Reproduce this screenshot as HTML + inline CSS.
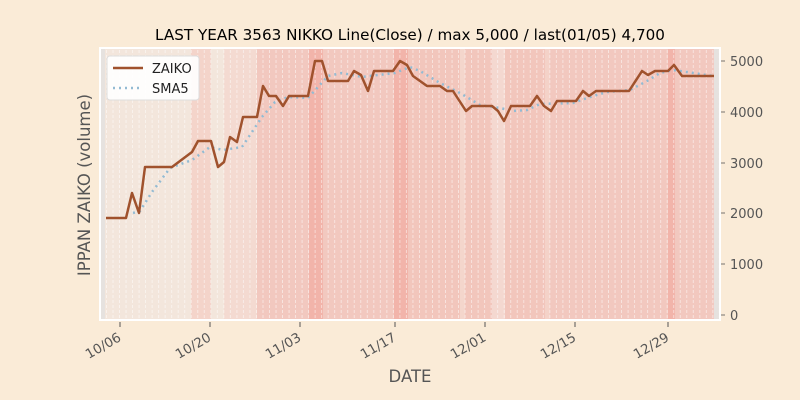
<!DOCTYPE html>
<html><head><meta charset="utf-8"><style>
body{margin:0;background:#faebd7;}
svg{display:block;font-family:"DejaVu Sans","Liberation Sans",sans-serif;}
</style></head><body>
<svg width="800" height="400" viewBox="0 0 800 400">
<defs>
<pattern id="vl" x="106" y="0" width="6.52" height="400" patternUnits="userSpaceOnUse">
<line x1="0.5" y1="0" x2="0.5" y2="400" stroke="#fff" stroke-opacity="0.6" stroke-width="0.8" stroke-dasharray="3,2"/>
</pattern>
<pattern id="mt" x="106" y="0" width="6.52" height="400" patternUnits="userSpaceOnUse">
<line x1="0.5" y1="0" x2="0.5" y2="3" stroke="#555" stroke-width="0.8"/>
</pattern>
</defs>
<rect width="800" height="400" fill="#faebd7"/>
<rect x="99" y="47" width="622" height="274" fill="#fff"/>
<g>
<rect x="101" y="49" width="4" height="270" fill="#e6e2df"/>
<rect x="105" y="49" width="86" height="270" fill="#f3e6dc"/>
<rect x="191" y="49" width="20" height="270" fill="#f4d4ca"/>
<rect x="211" y="49" width="13" height="270" fill="#f3e6dc"/>
<rect x="224" y="49" width="33" height="270" fill="#f4dad1"/>
<rect x="257" y="49" width="52" height="270" fill="#f2c8bf"/>
<rect x="309" y="49" width="14" height="270" fill="#f2b4aa"/>
<rect x="323" y="49" width="71" height="270" fill="#f2c8bf"/>
<rect x="394" y="49" width="14" height="270" fill="#f2b4aa"/>
<rect x="408" y="49" width="52" height="270" fill="#f2c6bc"/>
<rect x="460" y="49" width="5" height="270" fill="#f4d6cc"/>
<rect x="465" y="49" width="27" height="270" fill="#f2c6bc"/>
<rect x="492" y="49" width="13" height="270" fill="#f4d8d0"/>
<rect x="505" y="49" width="40" height="270" fill="#f2c6bc"/>
<rect x="545" y="49" width="5" height="270" fill="#f4d2c8"/>
<rect x="550" y="49" width="118" height="270" fill="#f2c8bf"/>
<rect x="668" y="49" width="7" height="270" fill="#f2b4aa"/>
<rect x="675" y="49" width="39" height="270" fill="#f2c8bf"/>
<rect x="714" y="49" width="5" height="270" fill="#e6e2df"/>
<rect x="101" y="49" width="618" height="270" fill="url(#vl)"/>
</g>
<polyline fill="none" stroke="#93bbd3" stroke-width="2.5" stroke-dasharray="2,4" points="133,213 140,211 152,192 170,168 192,160 210,147 223,150 242,147 262,117 275,102 288,97 308,98 328,76 342,73 362,77 378,75 395,73 410,67 420,71 440,83 460,93 480,105 500,108 513,111 527,110 540,104 573,103 590,97 607,92 630,90 647,81 660,73 673,70 687,72 713,76"/>
<polyline fill="none" stroke="#a0522d" stroke-width="2.5" stroke-linejoin="round" points="106,218 126,218 132,193 139,213 145,167 172,167 192,152 198,141 211,141 218,167 224,162 230,137 237,142 243,117 257,117 263,86 269,96 276,96 283,106 289,96 308,96 315,61 322,61 328,81 348,81 354,71 361,75 368,91 374,71 393,71 400,61 407,65 413,76 427,86 440,86 447,91 453,91 466,111 472,106 492,106 498,111 504,121 511,106 530,106 537,96 544,106 551,111 557,101 576,101 583,91 589,96 596,91 629,91 642,71 648,75 655,71 668,71 674,65 682,76 714,76"/>
<g transform="translate(107,56)">
<rect width="92" height="44" rx="3" fill="#fff" fill-opacity="0.9" stroke="#ddd"/>
<line x1="6" y1="12" x2="36" y2="12" stroke="#a0522d" stroke-width="2.5"/>
<line x1="6" y1="32" x2="36" y2="32" stroke="#93bbd3" stroke-width="2.5" stroke-dasharray="2,4"/>
<text x="45" y="17" font-size="13" fill="#222">ZAIKO</text>
<text x="45" y="37" font-size="13" fill="#222">SMA5</text>
</g>
<g stroke="#555" stroke-width="0.8">
<line x1="721" y1="61" x2="725" y2="61"/><line x1="721" y1="112" x2="725" y2="112"/>
<line x1="721" y1="163" x2="725" y2="163"/><line x1="721" y1="213" x2="725" y2="213"/>
<line x1="721" y1="264" x2="725" y2="264"/><line x1="721" y1="315" x2="725" y2="315"/>
</g>
<g font-size="13" fill="#555">
<text x="730" y="66">5000</text><text x="730" y="117">4000</text>
<text x="730" y="168">3000</text><text x="730" y="218">2000</text>
<text x="730" y="269">1000</text><text x="730" y="320">0</text>
</g>
<rect x="101" y="322" width="618" height="3" fill="url(#mt)"/>
<g stroke="#555" stroke-width="1">
<line x1="120" y1="322" x2="120" y2="327"/><line x1="210" y1="322" x2="210" y2="327"/>
<line x1="300" y1="322" x2="300" y2="327"/><line x1="395" y1="322" x2="395" y2="327"/>
<line x1="485" y1="322" x2="485" y2="327"/><line x1="575" y1="322" x2="575" y2="327"/>
<line x1="668" y1="322" x2="668" y2="327"/>
</g>
<g font-size="13.3" fill="#555" text-anchor="end">
<text transform="translate(122,340) rotate(-30)">10/06</text>
<text transform="translate(212,340) rotate(-30)">10/20</text>
<text transform="translate(302,340) rotate(-30)">11/03</text>
<text transform="translate(397,340) rotate(-30)">11/17</text>
<text transform="translate(487,340) rotate(-30)">12/01</text>
<text transform="translate(577,340) rotate(-30)">12/15</text>
<text transform="translate(670,340) rotate(-30)">12/29</text>
</g>
<text x="410" y="40" font-size="15.2" text-anchor="middle" fill="#000">LAST YEAR 3563 NIKKO Line(Close) / max 5,000 / last(01/05) 4,700</text>
<text x="410" y="382" font-size="16.5" text-anchor="middle" fill="#555">DATE</text>
<text transform="translate(90,185) rotate(-90)" font-size="16.5" text-anchor="middle" fill="#555">IPPAN ZAIKO (volume)</text>
</svg>
</body></html>
